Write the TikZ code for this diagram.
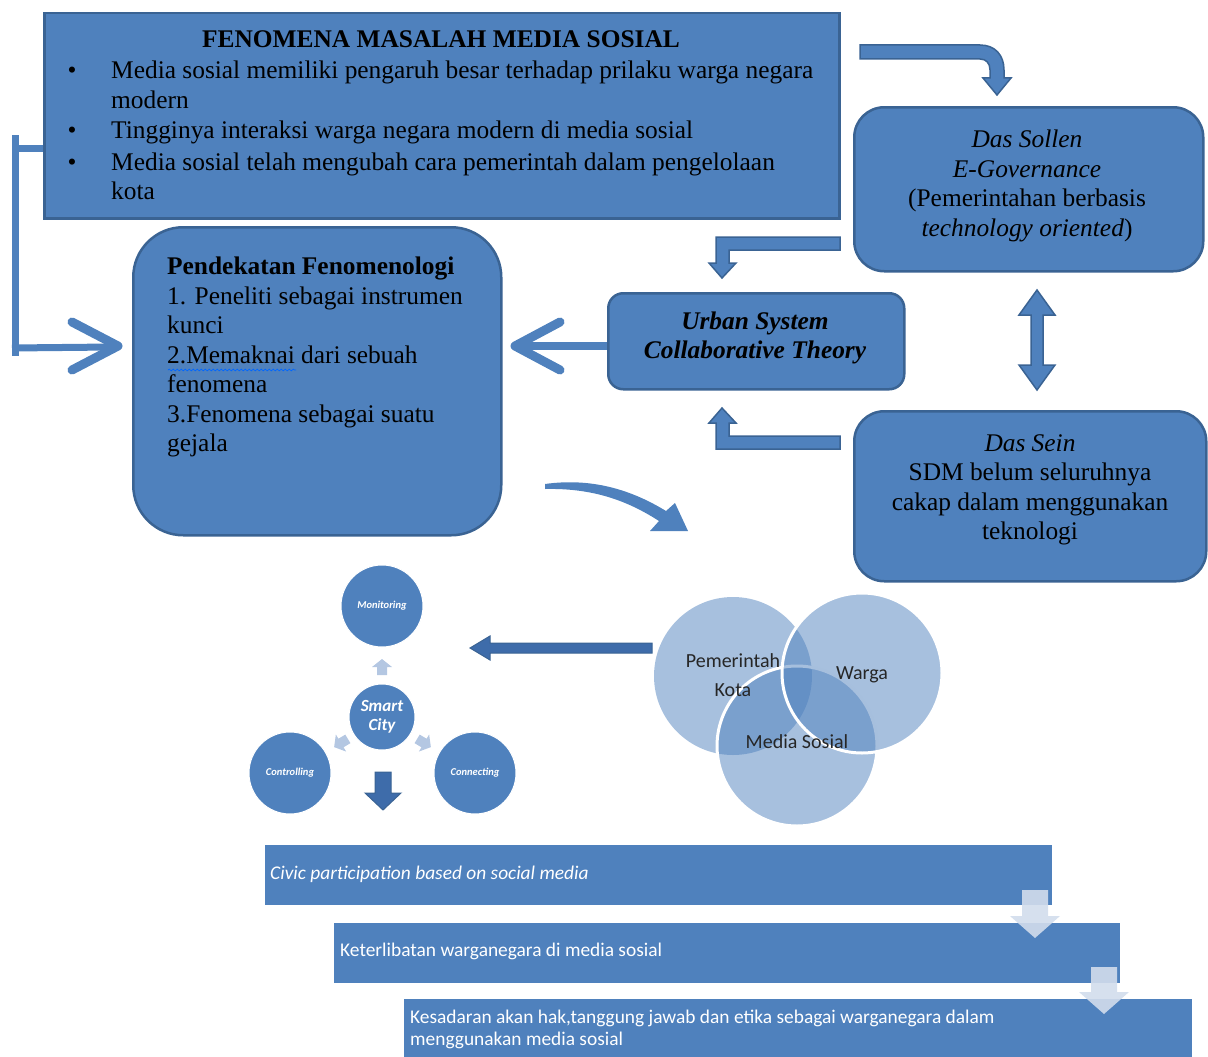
\documentclass[tikz,border=0pt]{standalone}
\usepackage{fontspec}
\setmainfont{Liberation Serif}
\newfontfamily\calfont{Carlito}
\usetikzlibrary{decorations.pathmorphing}
\definecolor{blueF}{HTML}{4F81BD}
\definecolor{blueD}{HTML}{3A6393}
\definecolor{blueA}{HTML}{3E6CAA}
\definecolor{lightA}{HTML}{B4C7E2}
\definecolor{paleA}{HTML}{D2DDEC}
\newcommand\mainsz{\fontsize{25.4}{29.5}\selectfont}
\begin{document}
\begin{tikzpicture}[x=1pt,y=-1pt,
  sqbox/.style={draw=blueD, line width=2.5pt, fill=blueF, inner sep=0, anchor=north west},
  rndbox/.style={draw=blueD, line width=2.5pt, fill=blueF, inner sep=0, anchor=north west},
  txt/.style={font=\mainsz, text=black, inner sep=0},
  blockarr/.style={fill=blueF, draw=blueD, line width=1.5pt, line join=miter},
  conn/.style={draw=blueF, line width=7pt},
  chev/.style={draw=blueF, line width=9pt, line cap=round, line join=round},
  city/.style={circle, fill=blueF, draw=white, line width=1pt, inner sep=0, text=white, font=\calfont\bfseries\itshape\fontsize{10.5}{12}\selectfont},
  venn/.style={fill=blueF, fill opacity=0.5},
  vennline/.style={draw=white, line width=3pt},
  venntxt/.style={font=\calfont\fontsize{20}{24}\selectfont, text=black!85, inner sep=0},
  bar/.style={fill=blueF, inner sep=0, anchor=north west},
  bartxt/.style={font=\calfont\fontsize{19.4}{22}\selectfont, text=white, inner sep=0, align=left},
  pale/.style={fill=paleA, fill opacity=0.9},
  small/.style={fill=lightA}
]
\useasboundingbox (0,0) rectangle (1208,1057);

% ---------- main box ----------
\node[sqbox, minimum width=795pt, minimum height=205pt] (fen) at (43,12) {};
\node[txt, anchor=base, font=\mainsz\bfseries] (fent) at (441,48) {FENOMENA MASALAH MEDIA SOSIAL};
\node[txt, anchor=base] (bu1) at (72,79) {\textbullet};
\node[txt, anchor=base west] (l1) at (111,79) {Media sosial memiliki pengaruh besar terhadap prilaku warga negara};
\node[txt, anchor=base west] (l2) at (111,108) {modern};
\node[txt, anchor=base] (bu2) at (72,139) {\textbullet};
\node[txt, anchor=base west] (l3) at (111,139) {Tingginya interaksi warga negara modern di media sosial};
\node[txt, anchor=base] (bu3) at (72,170) {\textbullet};
\node[txt, anchor=base west] (l4) at (111,170) {Media sosial telah mengubah cara pemerintah dalam pengelolaan};
\node[txt, anchor=base west] (l5) at (111,199) {kota};

% ---------- Pendekatan ----------
\node[rndbox, rounded corners=50pt, minimum width=368pt, minimum height=308pt] (pend) at (132,226) {};
\node[txt, anchor=west, align=left] (pendt) at (167,357) {\textbf{Pendekatan Fenomenologi}\\1. Peneliti sebagai instrumen\\kunci\\2.Memaknai dari sebuah\\fenomena\\3.Fenomena sebagai suatu\\gejala};
\draw[decorate, decoration={snake, amplitude=0.9pt, segment length=4pt}, draw=blue!60!cyan, line width=0.7pt] (168,370) -- (296,370);

% ---------- Das Sollen ----------
\node[rndbox, rounded corners=30pt, minimum width=349pt, minimum height=164pt] (sollen) at (853,106) {};
\node[txt, align=center] (sollent) at (1027,186) {\textit{Das Sollen}\\\textit{E-Governance}\\(Pemerintahan berbasis\\\textit{technology oriented})};

% ---------- Urban ----------
\node[rndbox, rounded corners=15pt, minimum width=296pt, minimum height=96pt] (urban) at (607,292) {};
\node[txt, align=center, font=\mainsz\bfseries\itshape] (urbant) at (755,338) {Urban System\\Collaborative Theory};

% ---------- Das Sein ----------
\node[rndbox, rounded corners=30pt, minimum width=352pt, minimum height=170pt] (sein) at (853,410) {};
\node[txt, align=center] (seint) at (1030,490) {\textit{Das Sein}\\SDM belum seluruhnya\\cakap dalam menggunakan\\teknologi};

% ---------- connectors ----------
\draw[conn] (fen.west |- 0,148) -- (15,148);
\draw[conn] (15,135) -- (15,356);
\draw[conn] (12,348) -- (112,347);
\draw[chev] (72,322) -- (118,346) -- (72,370);

\draw[conn, line width=8pt] (urban.west |- 0,346) -- (522,346);
\draw[chev] (560,322) -- (515,346) -- (560,370);

% top bent arrow fen -> sollen
\draw[blockarr] (860,45) -- (980,45) .. controls (995,45) and (1004,55) .. (1004,70) -- (1004,78) -- (1011,78) -- (997,95) -- (983,78) -- (990,78) -- (990,70) .. controls (990,63) and (986,59) .. (980,59) -- (860,59) -- cycle;

% sollen -> urban
\draw[blockarr] (840,237) -- (716,237) -- (716,263) -- (709,263) -- (722,278) -- (736,263) -- (729,263) -- (729,250) -- (840,250) -- cycle;
% sein -> urban
\draw[blockarr] (840,449) -- (716,449) -- (716,423) -- (709,423) -- (722,408) -- (736,423) -- (729,423) -- (729,436) -- (840,436) -- cycle;
% double arrow sollen <-> sein
\draw[blockarr] (1037,290) -- (1055,315) -- (1043,315) -- (1043,365) -- (1055,365) -- (1037,390) -- (1019,365) -- (1031,365) -- (1031,315) -- (1019,315) -- cycle;

% curved tapered arrow
\fill[blueF] (545,484) .. controls (595,477) and (635,492) .. (666,511) -- (675,503) -- (688,531) -- (650,531) -- (659,521) .. controls (625,499) and (590,488) .. (545,489) -- cycle;

% ---------- smart city ----------
\node[city, minimum size=82pt] (moni) at (382,606) {Monitoring};
\node[city, minimum size=66pt, font=\calfont\bfseries\itshape\fontsize{17}{19}\selectfont, align=center] (smart) at (382,717) {Smart\\City};
\node[city, minimum size=82pt] (ctrl) at (290,773) {Controlling};
\node[city, minimum size=82pt] (conc) at (475,773) {Connecting};
\fill[small] (377,675) -- (377,667) -- (372,667) -- (382,659) -- (392,667) -- (387,667) -- (387,675) -- cycle;
\begin{scope}[shift={(341,743)}, rotate=121]
\fill[small] (-5,8) -- (-5,0) -- (-10,0) -- (0,-8) -- (10,0) -- (5,0) -- (5,8) -- cycle;
\end{scope}
\begin{scope}[shift={(424,743)}, rotate=-121]
\fill[small] (-5,8) -- (-5,0) -- (-10,0) -- (0,-8) -- (10,0) -- (5,0) -- (5,8) -- cycle;
\end{scope}
\draw[fill=blueA, draw=blueD, line width=1pt] (375,772) -- (391,772) -- (391,793) -- (401,793) -- (383,810) -- (365,793) -- (375,793) -- cycle;

% arrow venn -> smart city
\draw[fill=blueA, draw=blueD, line width=1pt] (652,643) -- (490,643) -- (490,636) -- (470,648) -- (490,660) -- (490,653) -- (652,653) -- cycle;

% ---------- venn ----------
\fill[venn] (733,676) circle (79);
\fill[venn] (797,746) circle (80);
\draw[vennline] (797,746) circle (80);
\fill[venn] (862,673) circle (80);
\draw[vennline] (862,673) circle (80);
\node[venntxt] (pk1) at (733,661) {Pemerintah};
\node[venntxt] (pk2) at (733,690) {Kota};
\node[venntxt] (wg) at (862,675) {Warga};
\node[venntxt] (ms) at (797,742) {Media Sosial};

% ---------- bottom bars ----------
\node[bar, minimum width=787pt, minimum height=60pt] (bar1) at (265,845) {};
\node[bartxt, anchor=west, font=\calfont\itshape\fontsize{19.4}{22}\selectfont] (bar1t) at (270,874) {Civic participation based on social media};
\node[bar, minimum width=786pt, minimum height=60pt] (bar2) at (334,923) {};
\node[bartxt, anchor=west] (bar2t) at (340,951) {Keterlibatan warganegara di media sosial};
\node[bar, minimum width=788pt, minimum height=60pt] (bar3) at (404,999) {};
\node[bartxt, anchor=west] (bar3t) at (410,1029) {Kesadaran akan hak,tanggung jawab dan etika sebagai warganegara dalam\\menggunakan media sosial};
\fill[pale] (1022,890) -- (1048,890) -- (1048,916) -- (1060,916) -- (1035,938) -- (1010,916) -- (1022,916) -- cycle;
\fill[pale] (1091,967) -- (1117,967) -- (1117,992) -- (1129,992) -- (1104,1014) -- (1079,992) -- (1091,992) -- cycle;
\end{tikzpicture}
\end{document}
